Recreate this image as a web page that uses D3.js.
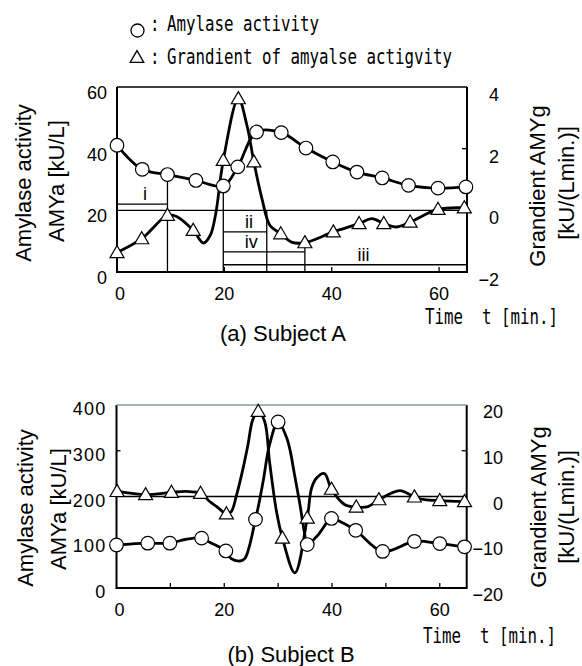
<!DOCTYPE html>
<html>
<head>
<meta charset="utf-8">
<script src="https://cdn.jsdelivr.net/npm/d3@7"></script>
<style>
  body { margin: 0; background: #fff; }
  svg text { fill: #000; }
</style>
</head>
<body>
<script>
// ---- Subject A (markers) ----
var tA_amy  = [0, 4.7, 9.4, 14.7, 19.8, 22.5, 26.0, 30.6, 35.2, 40.2, 44.7, 49.4, 54.3, 59.8, 65.0];
var amyA    = [41.1, 33.3, 31.6, 29.7, 27.9, 34.1, 45.4, 45.2, 40.2, 35.7, 32.4, 30.5, 28.1, 27.2, 27.6];
var tA_grad = [0, 4.6, 9.4, 14.2, 19.8, 22.6, 25.5, 30.5, 35.0, 40.3, 45.1, 49.7, 54.6, 59.8, 64.7];
var gradA   = [-1.37, -0.92, -0.16, -0.65, 1.62, 3.62, 1.57, -0.76, -1.05, -0.70, -0.43, -0.43, -0.38, 0.03, 0.08];
// extra points of the drawn gradient trace (no marker)
var tA_gradTrace = [11.1, 16.1, 17.4, 18.4, 24.2, 27.0, 28.5, 32.5, 47.5, 52.1];
var gradA_trace  = [-0.2, -1.06, -0.8, -0.1, 2.76, 0.38, -0.49, -1.03, -0.27, -0.54];

// interval annotations (AMYa units)
var spanLabels = ["i", "ii", "iv", "iii"];
var spanStart  = [0, 19.8, 19.8, 19.8];
var spanEnd    = [9.4, 27.9, 35.0, 65.2];
var spanLevel  = [22, 13, 6.5, 2.35];
var spanTextT  = [5.2, 24.6, 25.0, 45.9];
var dropT      = [9.4, 19.8, 27.9, 35.0];
var dropTop    = [31.6, 27.9, 20, 9.5];

// ---- Subject B (markers) ----
var tB_amy  = [0, 5.8, 9.9, 15.8, 20.3, 25.8, 30.0, 35.4, 39.9, 44.4, 49.4, 55.3, 60.0, 64.6];
var amyB    = [94, 98, 98, 109, 81, 150, 363, 95, 152, 126, 80, 102, 97, 90];
var tB_amyTrace = [12.7, 17.3, 21.3, 22.9, 23.8, 27.2, 28.4, 31.5, 32.2, 33.1, 34.0, 34.9, 37.4, 41.4];
var amyB_trace  = [106, 100, 64, 59, 64, 232, 313, 331, 302, 244, 186, 120, 116, 146];
var tB_grad = [0.1, 5.4, 10.2, 15.6, 20.4, 26.3, 30.8, 35.4, 39.9, 44.5, 48.7, 55.3, 60.0, 64.6];
var gradB   = [1.1, 0.4, 0.9, 0.7, -3.8, 18.6, -9.1, -4.7, 1.6, -2.3, -0.7, -0.1, -0.9, -1.1];
var tB_gradTrace = [13.0, 17.3, 18.6, 21.3, 22.3, 23.5, 24.4, 25.3, 27.5, 28.4, 29.7, 33.1, 36.2, 37.1, 38.6, 42.4, 46.7, 52.6, 57.2];
var gradB_trace  = [1.1, -1.1, -2.2, -3.3, 0.4, 6.2, 11.3, 16.8, 16.4, 7.7, -3.3, -16.7, 1.8, 4.0, 5.0, -1.8, -2.2, 1.3, -0.7];

// tick labels
var xTicksA = [0, 20, 40, 60];
var yTicksA = [0, 20, 40, 60];
var rTicksA = [-2, 0, 2, 4];
var xTicksB = [0, 20, 40, 60];
var yTicksB = [0, 100, 200, 300, 400];
var rTicksB = [-20, -10, 0, 10, 20];

var sans = '"Liberation Sans", Arial, sans-serif';
var mono = '"DejaVu Sans Mono", monospace';

var svg = d3.select('body').append('svg')
    .attr('width', 582)
    .attr('height', 666);

function pairs(t, v) {
  return t.map(function(d, i) { return [d, v[i]]; });
}
function trace(t, v, tx, vx) {
  return pairs(t, v).concat(pairs(tx, vx)).sort(function(a, b) { return a[0] - b[0]; });
}

function gothic(x, y, str) {
  svg.append('text')
     .attr('transform', 'translate(' + x + ',' + y + ') scale(1,1.35)')
     .style('font-family', mono)
     .style('font-size', '15.8px')
     .style('white-space', 'pre')
     .text(str);
}

function rotLabel(x, y, str) {
  svg.append('text')
     .attr('transform', 'translate(' + x + ',' + y + ') rotate(-90)')
     .attr('text-anchor', 'middle')
     .style('font-family', sans)
     .style('font-size', '22px')
     .text(str);
}

var tri = d3.symbol().type(d3.symbolTriangle).size(85);

function drawPanel(p) {
  var g = svg.append('g');
  var x = p.x, yL = p.yL, yR = p.yR;
  var x0 = x.range()[0], x1 = x.range()[1];
  var yb = yL.range()[0], yt = yL.range()[1];

  // zero line of gradient
  g.append('line')
    .attr('x1', x0).attr('x2', x1)
    .attr('y1', yR(0)).attr('y2', yR(0))
    .attr('stroke', '#000').attr('stroke-width', 1.3);

  if (p.extra) p.extra(g);

  // inner ticks
  p.xTicksIn.forEach(function(t) {
    g.append('line').attr('x1', x(t)).attr('x2', x(t))
      .attr('y1', yb).attr('y2', yb - 5).attr('stroke', '#000').attr('stroke-width', 1.3);
  });
  p.yTicksIn.forEach(function(v) {
    g.append('line').attr('x1', x0).attr('x2', x0 + 4)
      .attr('y1', yL(v)).attr('y2', yL(v)).attr('stroke', '#000').attr('stroke-width', 1.3);
  });
  p.rTicksIn.forEach(function(v) {
    g.append('line').attr('x1', x1).attr('x2', x1 - 5)
      .attr('y1', yR(v)).attr('y2', yR(v)).attr('stroke', '#000').attr('stroke-width', 1.3);
  });

  // frame
  g.append('path')
    .attr('d', 'M' + x0 + ',' + yt + 'V' + yb + 'H' + x1 + 'V' + yt)
    .attr('fill', 'none').attr('stroke', '#000').attr('stroke-width', 2);
  g.append('line')
    .attr('x1', x0).attr('x2', x1).attr('y1', yt).attr('y2', yt)
    .attr('stroke', p.topColor).attr('stroke-width', 1.6);

  var curve = d3.curveCatmullRom.alpha(0.5);
  var lineL = d3.line().x(function(d) { return x(d[0]); }).y(function(d) { return yL(d[1]); }).curve(curve);
  var lineR = d3.line().x(function(d) { return x(d[0]); }).y(function(d) { return yR(d[1]); }).curve(curve);

  g.append('path').attr('d', lineL(p.amyLine))
    .attr('fill', 'none').attr('stroke', '#000').attr('stroke-width', 2.8);
  g.append('path').attr('d', lineR(p.gradLine))
    .attr('fill', 'none').attr('stroke', '#000').attr('stroke-width', 2.8);

  g.selectAll('path.tri').data(p.gradMarks).enter().append('path')
    .attr('class', 'tri')
    .attr('d', tri)
    .attr('transform', function(d) { return 'translate(' + x(d[0]) + ',' + (yR(d[1]) + 1) + ')'; })
    .attr('fill', '#fff').attr('stroke', '#000').attr('stroke-width', 1.2);
  g.selectAll('circle.amy').data(p.amyMarks).enter().append('circle')
    .attr('class', 'amy')
    .attr('cx', function(d) { return x(d[0]); })
    .attr('cy', function(d) { return yL(d[1]); })
    .attr('r', 6.8)
    .attr('fill', '#fff').attr('stroke', '#000').attr('stroke-width', 1.2);

  // tick labels
  g.selectAll('text.xl').data(p.xLabels).enter().append('text')
    .attr('x', function(d) { return x(d) + (d === 0 ? 3 : 0); })
    .attr('y', yb + 28)
    .attr('text-anchor', 'middle')
    .style('font-family', sans).style('font-size', '18px')
    .text(function(d) { return d; });
  g.selectAll('text.yl').data(p.yLabels).enter().append('text')
    .attr('x', x0 - 10)
    .attr('y', function(d) { return yL(d) + p.yDy; })
    .attr('text-anchor', 'end')
    .style('font-family', sans).style('font-size', '18px')
    .style('letter-spacing', p.ySpacing)
    .text(function(d) { return d; });
  g.selectAll('text.rl').data(p.rLabels).enter().append('text')
    .attr('x', p.rRight)
    .attr('y', function(d) { return yR(d) + p.rDy; })
    .attr('text-anchor', 'end')
    .style('font-family', sans).style('font-size', '18px')
    .text(function(d) { return d < 0 ? '\u2212' + (-d) : d; });
}

// ---- panel A ----
var xA = d3.scaleLinear().domain([0, 65.2]).range([117, 467]);
var yLA = d3.scaleLinear().domain([0, 60]).range([272, 87]);
var yRA = d3.scaleLinear().domain([-2, 4]).range([272, 87]);

drawPanel({
  x: xA, yL: yLA, yR: yRA,
  topColor: '#000',
  amyLine: pairs(tA_amy, amyA),
  amyMarks: pairs(tA_amy, amyA),
  gradLine: trace(tA_grad, gradA, tA_gradTrace, gradA_trace),
  gradMarks: pairs(tA_grad, gradA),
  xTicksIn: [20, 40, 60],
  yTicksIn: [40],
  rTicksIn: [2],
  xLabels: xTicksA, yLabels: yTicksA, rLabels: rTicksA,
  yDy: 12, ySpacing: '0px', rDy: 14, rRight: 499,
  extra: function(g) {
    spanLabels.forEach(function(s, i) {
      g.append('line')
        .attr('x1', xA(spanStart[i])).attr('x2', xA(spanEnd[i]))
        .attr('y1', yLA(spanLevel[i])).attr('y2', yLA(spanLevel[i]))
        .attr('stroke', '#000').attr('stroke-width', 1.3);
      g.append('text')
        .attr('x', xA(spanTextT[i])).attr('y', yLA(spanLevel[i]) - 4)
        .attr('text-anchor', 'middle')
        .style('font-family', sans).style('font-size', '18px')
        .text(s);
    });
    dropT.forEach(function(t, i) {
      g.append('line')
        .attr('x1', xA(t)).attr('x2', xA(t))
        .attr('y1', yLA(dropTop[i])).attr('y2', yLA(0))
        .attr('stroke', '#000').attr('stroke-width', 1.3);
    });
  }
});

// ---- panel B ----
var xB = d3.scaleLinear().domain([0, 65]).range([116.5, 466.7]);
var yLB = d3.scaleLinear().domain([0, 400]).range([588, 405]);
var yRB = d3.scaleLinear().domain([-20, 20]).range([588, 405]);

drawPanel({
  x: xB, yL: yLB, yR: yRB,
  topColor: '#7f9ea8',
  amyLine: trace(tB_amy, amyB, tB_amyTrace, amyB_trace),
  amyMarks: pairs(tB_amy, amyB),
  gradLine: trace(tB_grad, gradB, tB_gradTrace, gradB_trace),
  gradMarks: pairs(tB_grad, gradB),
  xTicksIn: [10, 20, 30, 40, 50, 60],
  yTicksIn: [100, 300],
  rTicksIn: [10, -10],
  xLabels: xTicksB, yLabels: yTicksB, rLabels: rTicksB,
  yDy: 10, ySpacing: '1.2px', rDy: 13, rRight: 503
});

// ---- axis titles ----
rotLabel(31, 183, 'Amylase activity');
rotLabel(64, 181, 'AMYa [kU/L]');
rotLabel(545, 186, 'Grandient AMYg');
rotLabel(574, 183, '[kU/(Lmin.)]');

rotLabel(33, 508, 'Amylase activity');
rotLabel(66, 509, 'AMYa [kU/L]');
rotLabel(546, 507, 'Grandient AMYg');
rotLabel(574, 507, '[kU/(Lmin.)]');

gothic(425, 324, 'Time  t [min.]');
gothic(423, 643, 'Time  t [min.]');

svg.append('text').attr('x', 283).attr('y', 341).attr('text-anchor', 'middle')
  .style('font-family', sans).style('font-size', '22px').text('(a) Subject A');
svg.append('text').attr('x', 291).attr('y', 662).attr('text-anchor', 'middle')
  .style('font-family', sans).style('font-size', '22px').text('(b) Subject B');

// ---- legend ----
svg.append('circle').attr('cx', 137.5).attr('cy', 30.5).attr('r', 6.5)
  .attr('fill', '#fff').attr('stroke', '#000').attr('stroke-width', 1.3);
svg.append('path').attr('d', d3.symbol().type(d3.symbolTriangle).size(80)())
  .attr('transform', 'translate(137,58.5)')
  .attr('fill', '#fff').attr('stroke', '#000').attr('stroke-width', 1.3);
gothic(150, 31, ':');
gothic(150, 64, ':');
gothic(167, 31, 'Amylase activity');
gothic(167, 64, 'Grandient of amyalse actigvity');
</script>
</body>
</html>
